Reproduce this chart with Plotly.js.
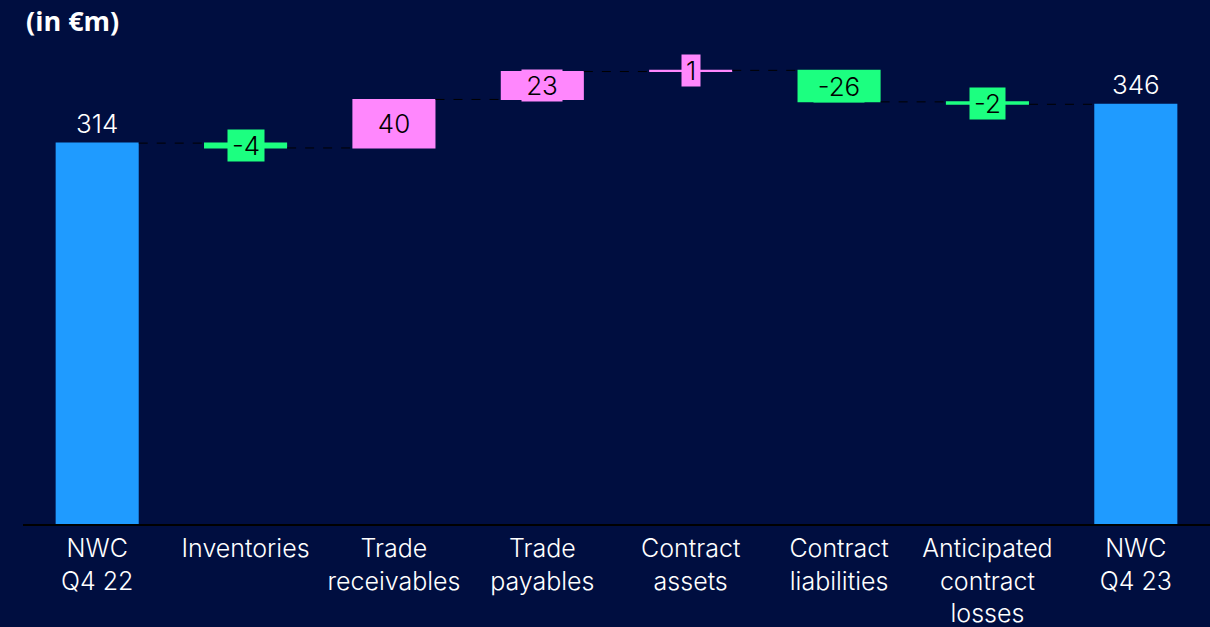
<!DOCTYPE html>
<html>
<head>
<meta charset="utf-8">
<script src="https://cdn.plot.ly/plotly-3.0.1.min.js"></script>
<style>html,body{margin:0;padding:0;background:#000e40;}</style>
</head>
<body>
<div id="chart" style="width:1210px;height:627px;"></div>
<script>
const categories = ["NWC<br>Q4 22", "Inventories", "Trade<br>receivables", "Trade<br>payables", "Contract<br>assets", "Contract<br>liabilities", "Anticipated<br>contract<br>losses", "NWC<br>Q4 23"];
const values = [314, -4, 40, 23, 1, -26, -2, 346];
const measures = ["absolute", "relative", "relative", "relative", "relative", "relative", "relative", "total"];
const labels = ["314", "-4", "40", "23", "1", "-26", "-2", "346"];

const colTotal = "#1f9bff", colUp = "#ff87fd", colDown = "#1cff80";

const cv = document.createElement("canvas").getContext("2d");
cv.font = "300 26px Inter";

const annotations = [];
let run = 0;
for (let i = 0; i < values.length; i++) {
  if (measures[i] === "absolute" || measures[i] === "total") {
    run = measures[i] === "absolute" ? values[i] : run;
    annotations.push({x: categories[i], y: run, xref: "x", yref: "y", text: labels[i], showarrow: false,
      yanchor: "bottom", yshift: 2, font: {family: "Inter", size: 26, weight: 300, color: "#ffffff"}});
  } else {
    const start = run, end = run + values[i];
    run = end;
    const w = Math.round(cv.measureText(labels[i]).width) + 8;
    annotations.push({x: categories[i], y: (start + end) / 2, xref: "x", yref: "y", text: labels[i], showarrow: false,
      bgcolor: values[i] >= 0 ? colUp : colDown, borderpad: 0, width: w, align: "center",
      font: {family: "Inter", size: 26, weight: 300, color: "#000000"}});
  }
}

const trace = {
  type: "waterfall",
  x: categories,
  y: values,
  measure: measures,
  text: labels.map(() => ""),
  textposition: "none",
  width: 0.56,
  totals: {marker: {color: colTotal}},
  increasing: {marker: {color: colUp}},
  decreasing: {marker: {color: colDown}},
  connector: {line: {color: "#000000", width: 1, dash: "dash"}},
  hoverinfo: "none"
};

const layout = {
  width: 1210, height: 627,
  paper_bgcolor: "#000e40", plot_bgcolor: "#000e40",
  margin: {l: 23, r: 0, t: 40, b: 103},
  showlegend: false,
  title: {text: "<b>(in €m)</b>", xref: "container", yref: "container", x: 26/1210, xanchor: "left",
    y: 1 - 22/627, yanchor: "middle", font: {family: "Open Sans", size: 27, color: "#ffffff"}},
  xaxis: {type: "category", showline: true, linecolor: "#000000", linewidth: 2, showgrid: false, zeroline: false,
    ticks: "", ticklabelstandoff: 1, tickfont: {family: "Inter", size: 25, weight: 300, color: "#ffffff"}, fixedrange: true},
  yaxis: {range: [0, 399], visible: false, showgrid: false, zeroline: false, fixedrange: true},
  annotations: annotations,
  font: {family: "Inter"}
};

Plotly.newPlot("chart", [trace], layout, {displayModeBar: false, staticPlot: true});
</script>
</body>
</html>
